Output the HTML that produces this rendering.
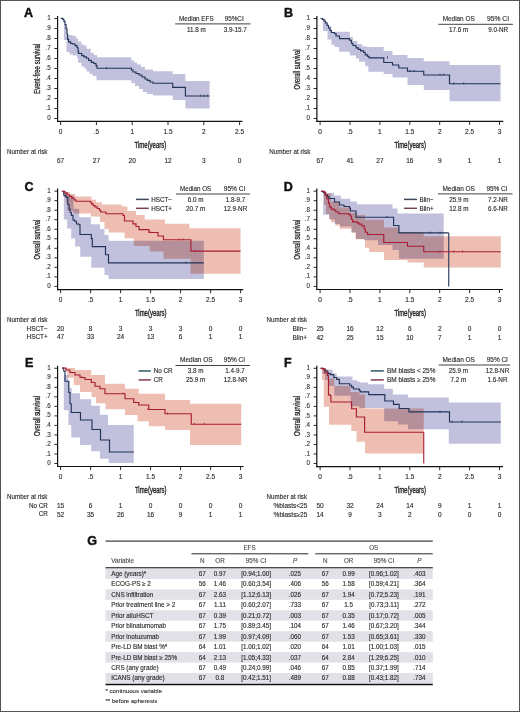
<!DOCTYPE html><html><head><meta charset="utf-8"><style>html,body{margin:0;padding:0;background:#fff;}svg{display:block;filter:blur(0.3px);}</style></head><body>
<svg width="520" height="712" viewBox="0 0 520 712" font-family='"Liberation Sans", sans-serif'>
<rect x="0" y="0" width="520" height="712" fill="#fff"/>
<text x="24" y="17" font-size="12.5" font-weight="bold" fill="#111" stroke="#111" stroke-width="0.45">A</text>
<path d="M61.3,18.3H63.9V24.5H66.5V35H72.8V36.1H76V38.2H78.1V41.4H81.3V44.5H83.4V45.6H86.5V48.7H90.7V53H93.9V55H97V57.2H131.4V60.5H134V62.5H137V64.5H141V67H145V69.5H153V71.2H172.7V74H185.4V81H209.6V108.5H185.4V100H172.7V95.4H153V94H147V92H143V89H139V86H135V83H131.4V80.3H96.5V76.1H92.8V74H89.7V71.4H86.5V68.7H84.4V66.6H81.3V62.8H78.1V57.8H77V55.5H72.8V54.5H69.7V52H66.5V40H63.9V18.3H61.3Z" fill="#c2c1dd" style="mix-blend-mode:multiply"/>
<path d="M60.8,18.3H62.8V19.3H63.9V21.4H65V24.5H66V28.7H67V34H67.6V39.3H68.6V41.9H70.7V43.5H72.8V44H75V45.6H77V47.7H78.1V51.9H78.6V53.5H81.8V55.6H84V56.8H86.5V58.2H88.6V60.3H91.3V62.4H93.9V63.5H96V65.6H97V68.2H131.4V70H133V72H136V73.5H139V75H142V77H145V79H147.3V80.4H150V82H153V83.2H172.7V87.3H185.4V96H209.6" fill="none" stroke="#213458" stroke-width="1.15"/>
<line x1="57.6" y1="15.9" x2="57.6" y2="122.0" stroke="#111" stroke-width="1.2"/>
<line x1="57.0" y1="121.4" x2="242.4" y2="121.4" stroke="#111" stroke-width="1.2"/>
<line x1="54.4" y1="118.50" x2="57.6" y2="118.50" stroke="#111" stroke-width="0.9"/>
<text x="50.80" y="120.10" font-size="6.3" text-anchor="end" fill="#383838" stroke="#383838" stroke-width="0.13">0</text>
<line x1="54.4" y1="108.50" x2="57.6" y2="108.50" stroke="#111" stroke-width="0.9"/>
<text x="50.80" y="110.10" font-size="6.3" text-anchor="end" fill="#383838" stroke="#383838" stroke-width="0.13">.1</text>
<line x1="54.4" y1="98.50" x2="57.6" y2="98.50" stroke="#111" stroke-width="0.9"/>
<text x="50.80" y="100.10" font-size="6.3" text-anchor="end" fill="#383838" stroke="#383838" stroke-width="0.13">.2</text>
<line x1="54.4" y1="88.50" x2="57.6" y2="88.50" stroke="#111" stroke-width="0.9"/>
<text x="50.80" y="90.10" font-size="6.3" text-anchor="end" fill="#383838" stroke="#383838" stroke-width="0.13">.3</text>
<line x1="54.4" y1="78.50" x2="57.6" y2="78.50" stroke="#111" stroke-width="0.9"/>
<text x="50.80" y="80.10" font-size="6.3" text-anchor="end" fill="#383838" stroke="#383838" stroke-width="0.13">.4</text>
<line x1="54.4" y1="68.50" x2="57.6" y2="68.50" stroke="#111" stroke-width="0.9"/>
<text x="50.80" y="70.10" font-size="6.3" text-anchor="end" fill="#383838" stroke="#383838" stroke-width="0.13">.5</text>
<line x1="54.4" y1="58.50" x2="57.6" y2="58.50" stroke="#111" stroke-width="0.9"/>
<text x="50.80" y="60.10" font-size="6.3" text-anchor="end" fill="#383838" stroke="#383838" stroke-width="0.13">.6</text>
<line x1="54.4" y1="48.50" x2="57.6" y2="48.50" stroke="#111" stroke-width="0.9"/>
<text x="50.80" y="50.10" font-size="6.3" text-anchor="end" fill="#383838" stroke="#383838" stroke-width="0.13">.7</text>
<line x1="54.4" y1="38.50" x2="57.6" y2="38.50" stroke="#111" stroke-width="0.9"/>
<text x="50.80" y="40.10" font-size="6.3" text-anchor="end" fill="#383838" stroke="#383838" stroke-width="0.13">.8</text>
<line x1="54.4" y1="28.50" x2="57.6" y2="28.50" stroke="#111" stroke-width="0.9"/>
<text x="50.80" y="30.10" font-size="6.3" text-anchor="end" fill="#383838" stroke="#383838" stroke-width="0.13">.9</text>
<line x1="54.4" y1="18.50" x2="57.6" y2="18.50" stroke="#111" stroke-width="0.9"/>
<text x="50.80" y="20.10" font-size="6.3" text-anchor="end" fill="#383838" stroke="#383838" stroke-width="0.13">1</text>
<line x1="60.60" y1="121.4" x2="60.60" y2="125.0" stroke="#111" stroke-width="0.9"/>
<text x="60.60" y="133.6" font-size="6.5" text-anchor="middle" fill="#2b2b2b" stroke="#2b2b2b" stroke-width="0.13">0</text>
<line x1="96.40" y1="121.4" x2="96.40" y2="125.0" stroke="#111" stroke-width="0.9"/>
<text x="96.40" y="133.6" font-size="6.5" text-anchor="middle" fill="#2b2b2b" stroke="#2b2b2b" stroke-width="0.13">.5</text>
<line x1="132.20" y1="121.4" x2="132.20" y2="125.0" stroke="#111" stroke-width="0.9"/>
<text x="132.20" y="133.6" font-size="6.5" text-anchor="middle" fill="#2b2b2b" stroke="#2b2b2b" stroke-width="0.13">1</text>
<line x1="168.00" y1="121.4" x2="168.00" y2="125.0" stroke="#111" stroke-width="0.9"/>
<text x="168.00" y="133.6" font-size="6.5" text-anchor="middle" fill="#2b2b2b" stroke="#2b2b2b" stroke-width="0.13">1.5</text>
<line x1="203.80" y1="121.4" x2="203.80" y2="125.0" stroke="#111" stroke-width="0.9"/>
<text x="203.80" y="133.6" font-size="6.5" text-anchor="middle" fill="#2b2b2b" stroke="#2b2b2b" stroke-width="0.13">2</text>
<line x1="239.60" y1="121.4" x2="239.60" y2="125.0" stroke="#111" stroke-width="0.9"/>
<text x="239.60" y="133.6" font-size="6.5" text-anchor="middle" fill="#2b2b2b" stroke="#2b2b2b" stroke-width="0.13">2.5</text>
<text transform="translate(40.2,68.9) rotate(-90)" font-size="8.3" text-anchor="middle" textLength="50" lengthAdjust="spacingAndGlyphs" fill="#2b2b2b" stroke="#2b2b2b" stroke-width="0.32">Event-free survival</text>
<text x="150.4" y="147.9" font-size="8.8" text-anchor="middle" textLength="31.6" lengthAdjust="spacingAndGlyphs" fill="#2b2b2b" stroke="#2b2b2b" stroke-width="0.4">Time(years)</text>
<text x="196.3" y="20.7" font-size="6.3" text-anchor="middle" textLength="34.6" lengthAdjust="spacingAndGlyphs" fill="#2b2b2b" stroke="#2b2b2b" stroke-width="0.13">Median EFS</text>
<text x="234.2" y="20.8" font-size="6.3" text-anchor="middle" textLength="19" lengthAdjust="spacingAndGlyphs" fill="#2b2b2b" stroke="#2b2b2b" stroke-width="0.13">95%CI</text>
<line x1="175.2" y1="23.9" x2="250.5" y2="23.9" stroke="#111" stroke-width="0.8"/>
<text x="196.3" y="31.6" font-size="6.3" text-anchor="middle" fill="#2b2b2b" stroke="#2b2b2b" stroke-width="0.13">11.8 m</text>
<text x="235.2" y="31.6" font-size="6.3" text-anchor="middle" fill="#2b2b2b" stroke="#2b2b2b" stroke-width="0.13">3.9-15.7</text>
<text x="7" y="153.9" font-size="6.8" textLength="40.5" lengthAdjust="spacingAndGlyphs" fill="#2b2b2b" stroke="#2b2b2b" stroke-width="0.13">Number at risk</text>
<text x="60.60" y="162.8" font-size="6.5" text-anchor="middle" fill="#2b2b2b" stroke="#2b2b2b" stroke-width="0.13">67</text>
<text x="96.40" y="162.8" font-size="6.5" text-anchor="middle" fill="#2b2b2b" stroke="#2b2b2b" stroke-width="0.13">27</text>
<text x="132.20" y="162.8" font-size="6.5" text-anchor="middle" fill="#2b2b2b" stroke="#2b2b2b" stroke-width="0.13">20</text>
<text x="168.00" y="162.8" font-size="6.5" text-anchor="middle" fill="#2b2b2b" stroke="#2b2b2b" stroke-width="0.13">12</text>
<text x="203.80" y="162.8" font-size="6.5" text-anchor="middle" fill="#2b2b2b" stroke="#2b2b2b" stroke-width="0.13">3</text>
<text x="239.60" y="162.8" font-size="6.5" text-anchor="middle" fill="#2b2b2b" stroke="#2b2b2b" stroke-width="0.13">0</text>
<text x="284" y="17" font-size="12.5" font-weight="bold" fill="#111" stroke="#111" stroke-width="0.45">B</text>
<path d="M320.6,18.5H325.2V22.5H328.3V26.3H331.4V31.7H349.8V37.1H352.9V40.9H357.5V44H362.2V46.3H366.8V47.1H383.7V51H392.5V55H407.5V58H423.75V61.25H449.5V65H500.5V101.25H449.5V90H423.75V85H407.5V77.5H392.5V74H383.7V71.7H368.3V66.3H365.2V61.7H359.1V58.6H356V55.5H349.8V51.7H339.1V47.1H334.5V44.8H331.4V39.4H327.5V30.9H322.9V18.5H320.6Z" fill="#c2c1dd" style="mix-blend-mode:multiply"/>
<path d="M320.6,18.5H322.5V19.5H324V21H325.5V23H327V25.5H328.5V28H330V30.5H331.4V32.5H334.5V33.5H336V36H339.5V38.6H349.5V40.2H351.4V43.2H352.9V45.5H356V47.8H358.3V49.4H360.6V50.9H363.7V52.5H365.2V54.8H367.5V56.3H369.1V57.8H383.75V62.5H392.5V65H398.75V68H407.5V71.25H423.75V75H449.5V83.75H500.5" fill="none" stroke="#213458" stroke-width="1.15"/>
<line x1="316.9" y1="15.9" x2="316.9" y2="121.89999999999999" stroke="#111" stroke-width="1.2"/>
<line x1="316.3" y1="121.3" x2="503.3" y2="121.3" stroke="#111" stroke-width="1.2"/>
<line x1="313.7" y1="118.50" x2="316.9" y2="118.50" stroke="#111" stroke-width="0.9"/>
<text x="310.10" y="120.10" font-size="6.3" text-anchor="end" fill="#383838" stroke="#383838" stroke-width="0.13">0</text>
<line x1="313.7" y1="108.50" x2="316.9" y2="108.50" stroke="#111" stroke-width="0.9"/>
<text x="310.10" y="110.10" font-size="6.3" text-anchor="end" fill="#383838" stroke="#383838" stroke-width="0.13">.1</text>
<line x1="313.7" y1="98.50" x2="316.9" y2="98.50" stroke="#111" stroke-width="0.9"/>
<text x="310.10" y="100.10" font-size="6.3" text-anchor="end" fill="#383838" stroke="#383838" stroke-width="0.13">.2</text>
<line x1="313.7" y1="88.50" x2="316.9" y2="88.50" stroke="#111" stroke-width="0.9"/>
<text x="310.10" y="90.10" font-size="6.3" text-anchor="end" fill="#383838" stroke="#383838" stroke-width="0.13">.3</text>
<line x1="313.7" y1="78.50" x2="316.9" y2="78.50" stroke="#111" stroke-width="0.9"/>
<text x="310.10" y="80.10" font-size="6.3" text-anchor="end" fill="#383838" stroke="#383838" stroke-width="0.13">.4</text>
<line x1="313.7" y1="68.50" x2="316.9" y2="68.50" stroke="#111" stroke-width="0.9"/>
<text x="310.10" y="70.10" font-size="6.3" text-anchor="end" fill="#383838" stroke="#383838" stroke-width="0.13">.5</text>
<line x1="313.7" y1="58.50" x2="316.9" y2="58.50" stroke="#111" stroke-width="0.9"/>
<text x="310.10" y="60.10" font-size="6.3" text-anchor="end" fill="#383838" stroke="#383838" stroke-width="0.13">.6</text>
<line x1="313.7" y1="48.50" x2="316.9" y2="48.50" stroke="#111" stroke-width="0.9"/>
<text x="310.10" y="50.10" font-size="6.3" text-anchor="end" fill="#383838" stroke="#383838" stroke-width="0.13">.7</text>
<line x1="313.7" y1="38.50" x2="316.9" y2="38.50" stroke="#111" stroke-width="0.9"/>
<text x="310.10" y="40.10" font-size="6.3" text-anchor="end" fill="#383838" stroke="#383838" stroke-width="0.13">.8</text>
<line x1="313.7" y1="28.50" x2="316.9" y2="28.50" stroke="#111" stroke-width="0.9"/>
<text x="310.10" y="30.10" font-size="6.3" text-anchor="end" fill="#383838" stroke="#383838" stroke-width="0.13">.9</text>
<line x1="313.7" y1="18.50" x2="316.9" y2="18.50" stroke="#111" stroke-width="0.9"/>
<text x="310.10" y="20.10" font-size="6.3" text-anchor="end" fill="#383838" stroke="#383838" stroke-width="0.13">1</text>
<line x1="320.10" y1="121.3" x2="320.10" y2="124.89999999999999" stroke="#111" stroke-width="0.9"/>
<text x="320.10" y="133.6" font-size="6.5" text-anchor="middle" fill="#2b2b2b" stroke="#2b2b2b" stroke-width="0.13">0</text>
<line x1="350.00" y1="121.3" x2="350.00" y2="124.89999999999999" stroke="#111" stroke-width="0.9"/>
<text x="350.00" y="133.6" font-size="6.5" text-anchor="middle" fill="#2b2b2b" stroke="#2b2b2b" stroke-width="0.13">.5</text>
<line x1="379.90" y1="121.3" x2="379.90" y2="124.89999999999999" stroke="#111" stroke-width="0.9"/>
<text x="379.90" y="133.6" font-size="6.5" text-anchor="middle" fill="#2b2b2b" stroke="#2b2b2b" stroke-width="0.13">1</text>
<line x1="409.80" y1="121.3" x2="409.80" y2="124.89999999999999" stroke="#111" stroke-width="0.9"/>
<text x="409.80" y="133.6" font-size="6.5" text-anchor="middle" fill="#2b2b2b" stroke="#2b2b2b" stroke-width="0.13">1.5</text>
<line x1="439.70" y1="121.3" x2="439.70" y2="124.89999999999999" stroke="#111" stroke-width="0.9"/>
<text x="439.70" y="133.6" font-size="6.5" text-anchor="middle" fill="#2b2b2b" stroke="#2b2b2b" stroke-width="0.13">2</text>
<line x1="469.60" y1="121.3" x2="469.60" y2="124.89999999999999" stroke="#111" stroke-width="0.9"/>
<text x="469.60" y="133.6" font-size="6.5" text-anchor="middle" fill="#2b2b2b" stroke="#2b2b2b" stroke-width="0.13">2.5</text>
<line x1="499.50" y1="121.3" x2="499.50" y2="124.89999999999999" stroke="#111" stroke-width="0.9"/>
<text x="499.50" y="133.6" font-size="6.5" text-anchor="middle" fill="#2b2b2b" stroke="#2b2b2b" stroke-width="0.13">3</text>
<text transform="translate(299.6,69.4) rotate(-90)" font-size="8.3" text-anchor="middle" textLength="40" lengthAdjust="spacingAndGlyphs" fill="#2b2b2b" stroke="#2b2b2b" stroke-width="0.32">Overall survival</text>
<text x="410.2" y="147.5" font-size="8.8" text-anchor="middle" textLength="31.6" lengthAdjust="spacingAndGlyphs" fill="#2b2b2b" stroke="#2b2b2b" stroke-width="0.4">Time(years)</text>
<text x="458.7" y="21.3" font-size="6.3" text-anchor="middle" textLength="32" lengthAdjust="spacingAndGlyphs" fill="#2b2b2b" stroke="#2b2b2b" stroke-width="0.13">Median OS</text>
<text x="498" y="21.3" font-size="6.3" text-anchor="middle" textLength="22" lengthAdjust="spacingAndGlyphs" fill="#2b2b2b" stroke="#2b2b2b" stroke-width="0.13">95% CI</text>
<line x1="438.3" y1="24.3" x2="512.9" y2="24.3" stroke="#111" stroke-width="0.8"/>
<text x="458.6" y="31.6" font-size="6.3" text-anchor="middle" fill="#2b2b2b" stroke="#2b2b2b" stroke-width="0.13">17.6 m</text>
<text x="498.2" y="31.6" font-size="6.3" text-anchor="middle" fill="#2b2b2b" stroke="#2b2b2b" stroke-width="0.13">9.0-NR</text>
<text x="269.3" y="153.9" font-size="6.8" textLength="41" lengthAdjust="spacingAndGlyphs" fill="#2b2b2b" stroke="#2b2b2b" stroke-width="0.13">Number at risk</text>
<text x="320.10" y="162.8" font-size="6.5" text-anchor="middle" fill="#2b2b2b" stroke="#2b2b2b" stroke-width="0.13">67</text>
<text x="350.00" y="162.8" font-size="6.5" text-anchor="middle" fill="#2b2b2b" stroke="#2b2b2b" stroke-width="0.13">41</text>
<text x="379.90" y="162.8" font-size="6.5" text-anchor="middle" fill="#2b2b2b" stroke="#2b2b2b" stroke-width="0.13">27</text>
<text x="409.80" y="162.8" font-size="6.5" text-anchor="middle" fill="#2b2b2b" stroke="#2b2b2b" stroke-width="0.13">16</text>
<text x="439.70" y="162.8" font-size="6.5" text-anchor="middle" fill="#2b2b2b" stroke="#2b2b2b" stroke-width="0.13">9</text>
<text x="469.60" y="162.8" font-size="6.5" text-anchor="middle" fill="#2b2b2b" stroke="#2b2b2b" stroke-width="0.13">1</text>
<text x="499.50" y="162.8" font-size="6.5" text-anchor="middle" fill="#2b2b2b" stroke="#2b2b2b" stroke-width="0.13">1</text>
<text x="24.5" y="190.5" font-size="12.5" font-weight="bold" fill="#111" stroke="#111" stroke-width="0.45">C</text>
<path d="M62.6,191.2H64V193H67.3V195.7H73.5V208.8H79.2V217.2H90.8V224.2H100V229H104.5V235H108.6V240.8H203.8V279H108.5V275H104.5V267.8H91.3V256.7H80.2V246.6H75.2V238.6H71.2V228.5H67.1V219.5H63.8V191.2H62.6Z" fill="#c2c1dd" style="mix-blend-mode:multiply"/>
<path d="M61.5,191.2H66V192H70V194H75.3V196.4H91.5V199.8H96V202.2H101.8V204.5H121.6V206.5H127.4V211H136V215H144.7V219.5H165V223.8H189.4V228.2H240.5V273.7H190.5V258.8H163.5V251.4H149.7V246H133.8V238.3H124.6V232.5H108.6V229H104.5V222H100V216.5H90.8V213.4H73.5V211H67.3V203H66V198H64.5V194H63V191.2H61.5Z" fill="#eebeb2" style="mix-blend-mode:multiply"/>
<path d="M62.6,191.2H63.8V195.2H65.5V196.4H66.7V197.5H67.8V204.5H69V209H70.1V212.5H71.3V215.4H73V220H74.7V221.2H76.5V224H78.8V224.7H80V234.5H91.3V238.6H92.3V246.6H105.5V254.7H108.5V262.8H203.8" fill="none" stroke="#213458" stroke-width="1.15"/>
<path d="M61.5,191.2H64.9V192.9H67.2V194.7H69.5V196.4H71.8V198.1H74.2V199.8H75.9V201.2H90.3V202.2H91.5V203.9H93.2V205.6H94.9V206.8H97.2V208.5H99.5V210.2H100.7V212H105.9V213.7H123V215.5H124.5V221H133V223.8H136V226.5H139V229.6H149V232.5H158V236H163.5V239.7H190.9V251.1H240.5" fill="none" stroke="#a81c34" stroke-width="1.15"/>
<line x1="57.6" y1="188.55" x2="57.6" y2="290.20000000000005" stroke="#111" stroke-width="1.2"/>
<line x1="57.0" y1="289.6" x2="243.3" y2="289.6" stroke="#111" stroke-width="1.2"/>
<line x1="54.4" y1="286.40" x2="57.6" y2="286.40" stroke="#111" stroke-width="0.9"/>
<text x="50.80" y="288.00" font-size="6.3" text-anchor="end" fill="#383838" stroke="#383838" stroke-width="0.13">0</text>
<line x1="54.4" y1="276.88" x2="57.6" y2="276.88" stroke="#111" stroke-width="0.9"/>
<text x="50.80" y="278.48" font-size="6.3" text-anchor="end" fill="#383838" stroke="#383838" stroke-width="0.13">.1</text>
<line x1="54.4" y1="267.35" x2="57.6" y2="267.35" stroke="#111" stroke-width="0.9"/>
<text x="50.80" y="268.95" font-size="6.3" text-anchor="end" fill="#383838" stroke="#383838" stroke-width="0.13">.2</text>
<line x1="54.4" y1="257.82" x2="57.6" y2="257.82" stroke="#111" stroke-width="0.9"/>
<text x="50.80" y="259.43" font-size="6.3" text-anchor="end" fill="#383838" stroke="#383838" stroke-width="0.13">.3</text>
<line x1="54.4" y1="248.30" x2="57.6" y2="248.30" stroke="#111" stroke-width="0.9"/>
<text x="50.80" y="249.90" font-size="6.3" text-anchor="end" fill="#383838" stroke="#383838" stroke-width="0.13">.4</text>
<line x1="54.4" y1="238.77" x2="57.6" y2="238.77" stroke="#111" stroke-width="0.9"/>
<text x="50.80" y="240.37" font-size="6.3" text-anchor="end" fill="#383838" stroke="#383838" stroke-width="0.13">.5</text>
<line x1="54.4" y1="229.25" x2="57.6" y2="229.25" stroke="#111" stroke-width="0.9"/>
<text x="50.80" y="230.85" font-size="6.3" text-anchor="end" fill="#383838" stroke="#383838" stroke-width="0.13">.6</text>
<line x1="54.4" y1="219.72" x2="57.6" y2="219.72" stroke="#111" stroke-width="0.9"/>
<text x="50.80" y="221.32" font-size="6.3" text-anchor="end" fill="#383838" stroke="#383838" stroke-width="0.13">.7</text>
<line x1="54.4" y1="210.20" x2="57.6" y2="210.20" stroke="#111" stroke-width="0.9"/>
<text x="50.80" y="211.80" font-size="6.3" text-anchor="end" fill="#383838" stroke="#383838" stroke-width="0.13">.8</text>
<line x1="54.4" y1="200.68" x2="57.6" y2="200.68" stroke="#111" stroke-width="0.9"/>
<text x="50.80" y="202.28" font-size="6.3" text-anchor="end" fill="#383838" stroke="#383838" stroke-width="0.13">.9</text>
<line x1="54.4" y1="191.15" x2="57.6" y2="191.15" stroke="#111" stroke-width="0.9"/>
<text x="50.80" y="192.75" font-size="6.3" text-anchor="end" fill="#383838" stroke="#383838" stroke-width="0.13">1</text>
<line x1="60.60" y1="289.6" x2="60.60" y2="293.20000000000005" stroke="#111" stroke-width="0.9"/>
<text x="60.60" y="302.4" font-size="6.5" text-anchor="middle" fill="#2b2b2b" stroke="#2b2b2b" stroke-width="0.13">0</text>
<line x1="90.60" y1="289.6" x2="90.60" y2="293.20000000000005" stroke="#111" stroke-width="0.9"/>
<text x="90.60" y="302.4" font-size="6.5" text-anchor="middle" fill="#2b2b2b" stroke="#2b2b2b" stroke-width="0.13">.5</text>
<line x1="120.60" y1="289.6" x2="120.60" y2="293.20000000000005" stroke="#111" stroke-width="0.9"/>
<text x="120.60" y="302.4" font-size="6.5" text-anchor="middle" fill="#2b2b2b" stroke="#2b2b2b" stroke-width="0.13">1</text>
<line x1="150.60" y1="289.6" x2="150.60" y2="293.20000000000005" stroke="#111" stroke-width="0.9"/>
<text x="150.60" y="302.4" font-size="6.5" text-anchor="middle" fill="#2b2b2b" stroke="#2b2b2b" stroke-width="0.13">1.5</text>
<line x1="180.60" y1="289.6" x2="180.60" y2="293.20000000000005" stroke="#111" stroke-width="0.9"/>
<text x="180.60" y="302.4" font-size="6.5" text-anchor="middle" fill="#2b2b2b" stroke="#2b2b2b" stroke-width="0.13">2</text>
<line x1="210.60" y1="289.6" x2="210.60" y2="293.20000000000005" stroke="#111" stroke-width="0.9"/>
<text x="210.60" y="302.4" font-size="6.5" text-anchor="middle" fill="#2b2b2b" stroke="#2b2b2b" stroke-width="0.13">2.5</text>
<line x1="240.60" y1="289.6" x2="240.60" y2="293.20000000000005" stroke="#111" stroke-width="0.9"/>
<text x="240.60" y="302.4" font-size="6.5" text-anchor="middle" fill="#2b2b2b" stroke="#2b2b2b" stroke-width="0.13">3</text>
<text transform="translate(39.6,239.6) rotate(-90)" font-size="8.3" text-anchor="middle" textLength="40" lengthAdjust="spacingAndGlyphs" fill="#2b2b2b" stroke="#2b2b2b" stroke-width="0.32">Overall survival</text>
<text x="150.7" y="315.6" font-size="8.8" text-anchor="middle" textLength="31.6" lengthAdjust="spacingAndGlyphs" fill="#2b2b2b" stroke="#2b2b2b" stroke-width="0.4">Time(years)</text>
<text x="195.6" y="191" font-size="6.3" text-anchor="middle" textLength="31.3" lengthAdjust="spacingAndGlyphs" fill="#2b2b2b" stroke="#2b2b2b" stroke-width="0.13">Median OS</text>
<text x="234.6" y="191" font-size="6.3" text-anchor="middle" textLength="21.7" lengthAdjust="spacingAndGlyphs" fill="#2b2b2b" stroke="#2b2b2b" stroke-width="0.13">95% CI</text>
<line x1="176" y1="194.0" x2="250" y2="194.0" stroke="#111" stroke-width="0.8"/>
<line x1="136" y1="199.4" x2="148.8" y2="199.4" stroke="#3e4a5c" stroke-width="1.5"/>
<line x1="136" y1="208.3" x2="148.8" y2="208.3" stroke="#774452" stroke-width="1.5"/>
<text x="151.2" y="202.0" font-size="6.3" fill="#2b2b2b" stroke="#2b2b2b" stroke-width="0.13">HSCT&#8722;</text>
<text x="151.2" y="210.8" font-size="6.3" fill="#2b2b2b" stroke="#2b2b2b" stroke-width="0.13">HSCT+</text>
<text x="195.6" y="202.0" font-size="6.3" text-anchor="middle" fill="#2b2b2b" stroke="#2b2b2b" stroke-width="0.13">6.0 m</text>
<text x="195.6" y="210.8" font-size="6.3" text-anchor="middle" fill="#2b2b2b" stroke="#2b2b2b" stroke-width="0.13">20.7 m</text>
<text x="235.5" y="202.0" font-size="6.3" text-anchor="middle" fill="#2b2b2b" stroke="#2b2b2b" stroke-width="0.13">1.8-9.7</text>
<text x="235.5" y="210.8" font-size="6.3" text-anchor="middle" fill="#2b2b2b" stroke="#2b2b2b" stroke-width="0.13">12.9-NR</text>
<text x="7" y="322.0" font-size="6.8" textLength="40.5" lengthAdjust="spacingAndGlyphs" fill="#2b2b2b" stroke="#2b2b2b" stroke-width="0.13">Number at risk</text>
<text x="47.8" y="330.6" font-size="6.3" text-anchor="end" textLength="21.3" lengthAdjust="spacingAndGlyphs" fill="#2b2b2b" stroke="#2b2b2b" stroke-width="0.13">HSCT&#8722;</text>
<text x="47.8" y="339.0" font-size="6.3" text-anchor="end" textLength="21.3" lengthAdjust="spacingAndGlyphs" fill="#2b2b2b" stroke="#2b2b2b" stroke-width="0.13">HSCT+</text>
<text x="60.60" y="330.7" font-size="6.5" text-anchor="middle" fill="#2b2b2b" stroke="#2b2b2b" stroke-width="0.13">20</text>
<text x="90.60" y="330.7" font-size="6.5" text-anchor="middle" fill="#2b2b2b" stroke="#2b2b2b" stroke-width="0.13">8</text>
<text x="120.60" y="330.7" font-size="6.5" text-anchor="middle" fill="#2b2b2b" stroke="#2b2b2b" stroke-width="0.13">3</text>
<text x="150.60" y="330.7" font-size="6.5" text-anchor="middle" fill="#2b2b2b" stroke="#2b2b2b" stroke-width="0.13">3</text>
<text x="180.60" y="330.7" font-size="6.5" text-anchor="middle" fill="#2b2b2b" stroke="#2b2b2b" stroke-width="0.13">3</text>
<text x="210.60" y="330.7" font-size="6.5" text-anchor="middle" fill="#2b2b2b" stroke="#2b2b2b" stroke-width="0.13">0</text>
<text x="240.60" y="330.7" font-size="6.5" text-anchor="middle" fill="#2b2b2b" stroke="#2b2b2b" stroke-width="0.13">0</text>
<text x="60.60" y="339.1" font-size="6.5" text-anchor="middle" fill="#2b2b2b" stroke="#2b2b2b" stroke-width="0.13">47</text>
<text x="90.60" y="339.1" font-size="6.5" text-anchor="middle" fill="#2b2b2b" stroke="#2b2b2b" stroke-width="0.13">33</text>
<text x="120.60" y="339.1" font-size="6.5" text-anchor="middle" fill="#2b2b2b" stroke="#2b2b2b" stroke-width="0.13">24</text>
<text x="150.60" y="339.1" font-size="6.5" text-anchor="middle" fill="#2b2b2b" stroke="#2b2b2b" stroke-width="0.13">13</text>
<text x="180.60" y="339.1" font-size="6.5" text-anchor="middle" fill="#2b2b2b" stroke="#2b2b2b" stroke-width="0.13">6</text>
<text x="210.60" y="339.1" font-size="6.5" text-anchor="middle" fill="#2b2b2b" stroke="#2b2b2b" stroke-width="0.13">1</text>
<text x="240.60" y="339.1" font-size="6.5" text-anchor="middle" fill="#2b2b2b" stroke="#2b2b2b" stroke-width="0.13">1</text>
<text x="283.7" y="190.5" font-size="12.5" font-weight="bold" fill="#111" stroke="#111" stroke-width="0.45">D</text>
<path d="M320.9,191.2H326.7V193H334.2V195.5H340.8V198.8H350.3V201.5H357V204.2H392.5V208.6H397.5V213.6H443.75V258.75H398.9V250H392.5V245H378V240.2H364V239H356V232H351.5V226.4H340V224H334.7V219.5H329.5V214.8H323.2V191.2H320.9Z" fill="#c2c1dd" style="mix-blend-mode:multiply"/>
<path d="M320.9,191.2H326V193.5H331V201.5H339.6V207.5H350.2V213H357V215H365V219.7H384V227.5H398.75V232H423.75V236.25H500.75V267.5H423.75V262.5H407.5V260H384V252H369.2V247.7H365V239.2H355.5V233H351.5V228.7H339.6V225.5H335.4V222.3H331V219H329V214H326V205H324V191.2H320.9Z" fill="#eebeb2" style="mix-blend-mode:multiply"/>
<path d="M320.9,191.2H323.2V192.5H325V195H327.5V196.5H329V198.5H334.5V202H339.5V205H344V206.5H349.5V208H350.5V211H356V217.2H393.6V225.5H398.9V232.9H448.75" fill="none" stroke="#213458" stroke-width="1.15"/>
<line x1="448.75" y1="232.9" x2="448.75" y2="286.4" stroke="#213458" stroke-width="1.1"/>
<path d="M320.9,191.2H324.3V192.9H325.5V195.2H326.7V198.7H328.4V203.3H329.5V206.8H331.3V209.1H334.2V210.2H335.9V212H338.8V213.7H348.6V214.3H350.3V216H351.5V219.5H352.6V221.8H357.2V222.9H359V224.1H361.8V225.8H364.2V228.7H365.3V232.2H367.6V234.5H383.75V242.5H407.5V246.25H423.75V251.75H500.75" fill="none" stroke="#a81c34" stroke-width="1.15"/>
<line x1="316.8" y1="188.55" x2="316.8" y2="290.1" stroke="#111" stroke-width="1.2"/>
<line x1="316.2" y1="289.5" x2="503" y2="289.5" stroke="#111" stroke-width="1.2"/>
<line x1="313.6" y1="286.40" x2="316.8" y2="286.40" stroke="#111" stroke-width="0.9"/>
<text x="310.00" y="288.00" font-size="6.3" text-anchor="end" fill="#383838" stroke="#383838" stroke-width="0.13">0</text>
<line x1="313.6" y1="276.88" x2="316.8" y2="276.88" stroke="#111" stroke-width="0.9"/>
<text x="310.00" y="278.48" font-size="6.3" text-anchor="end" fill="#383838" stroke="#383838" stroke-width="0.13">.1</text>
<line x1="313.6" y1="267.35" x2="316.8" y2="267.35" stroke="#111" stroke-width="0.9"/>
<text x="310.00" y="268.95" font-size="6.3" text-anchor="end" fill="#383838" stroke="#383838" stroke-width="0.13">.2</text>
<line x1="313.6" y1="257.82" x2="316.8" y2="257.82" stroke="#111" stroke-width="0.9"/>
<text x="310.00" y="259.43" font-size="6.3" text-anchor="end" fill="#383838" stroke="#383838" stroke-width="0.13">.3</text>
<line x1="313.6" y1="248.30" x2="316.8" y2="248.30" stroke="#111" stroke-width="0.9"/>
<text x="310.00" y="249.90" font-size="6.3" text-anchor="end" fill="#383838" stroke="#383838" stroke-width="0.13">.4</text>
<line x1="313.6" y1="238.77" x2="316.8" y2="238.77" stroke="#111" stroke-width="0.9"/>
<text x="310.00" y="240.37" font-size="6.3" text-anchor="end" fill="#383838" stroke="#383838" stroke-width="0.13">.5</text>
<line x1="313.6" y1="229.25" x2="316.8" y2="229.25" stroke="#111" stroke-width="0.9"/>
<text x="310.00" y="230.85" font-size="6.3" text-anchor="end" fill="#383838" stroke="#383838" stroke-width="0.13">.6</text>
<line x1="313.6" y1="219.72" x2="316.8" y2="219.72" stroke="#111" stroke-width="0.9"/>
<text x="310.00" y="221.32" font-size="6.3" text-anchor="end" fill="#383838" stroke="#383838" stroke-width="0.13">.7</text>
<line x1="313.6" y1="210.20" x2="316.8" y2="210.20" stroke="#111" stroke-width="0.9"/>
<text x="310.00" y="211.80" font-size="6.3" text-anchor="end" fill="#383838" stroke="#383838" stroke-width="0.13">.8</text>
<line x1="313.6" y1="200.68" x2="316.8" y2="200.68" stroke="#111" stroke-width="0.9"/>
<text x="310.00" y="202.28" font-size="6.3" text-anchor="end" fill="#383838" stroke="#383838" stroke-width="0.13">.9</text>
<line x1="313.6" y1="191.15" x2="316.8" y2="191.15" stroke="#111" stroke-width="0.9"/>
<text x="310.00" y="192.75" font-size="6.3" text-anchor="end" fill="#383838" stroke="#383838" stroke-width="0.13">1</text>
<line x1="320.10" y1="289.5" x2="320.10" y2="293.1" stroke="#111" stroke-width="0.9"/>
<text x="320.10" y="302.4" font-size="6.5" text-anchor="middle" fill="#2b2b2b" stroke="#2b2b2b" stroke-width="0.13">0</text>
<line x1="350.00" y1="289.5" x2="350.00" y2="293.1" stroke="#111" stroke-width="0.9"/>
<text x="350.00" y="302.4" font-size="6.5" text-anchor="middle" fill="#2b2b2b" stroke="#2b2b2b" stroke-width="0.13">.5</text>
<line x1="379.90" y1="289.5" x2="379.90" y2="293.1" stroke="#111" stroke-width="0.9"/>
<text x="379.90" y="302.4" font-size="6.5" text-anchor="middle" fill="#2b2b2b" stroke="#2b2b2b" stroke-width="0.13">1</text>
<line x1="409.80" y1="289.5" x2="409.80" y2="293.1" stroke="#111" stroke-width="0.9"/>
<text x="409.80" y="302.4" font-size="6.5" text-anchor="middle" fill="#2b2b2b" stroke="#2b2b2b" stroke-width="0.13">1.5</text>
<line x1="439.70" y1="289.5" x2="439.70" y2="293.1" stroke="#111" stroke-width="0.9"/>
<text x="439.70" y="302.4" font-size="6.5" text-anchor="middle" fill="#2b2b2b" stroke="#2b2b2b" stroke-width="0.13">2</text>
<line x1="469.60" y1="289.5" x2="469.60" y2="293.1" stroke="#111" stroke-width="0.9"/>
<text x="469.60" y="302.4" font-size="6.5" text-anchor="middle" fill="#2b2b2b" stroke="#2b2b2b" stroke-width="0.13">2.5</text>
<line x1="499.50" y1="289.5" x2="499.50" y2="293.1" stroke="#111" stroke-width="0.9"/>
<text x="499.50" y="302.4" font-size="6.5" text-anchor="middle" fill="#2b2b2b" stroke="#2b2b2b" stroke-width="0.13">3</text>
<text transform="translate(299.6,239.6) rotate(-90)" font-size="8.3" text-anchor="middle" textLength="40" lengthAdjust="spacingAndGlyphs" fill="#2b2b2b" stroke="#2b2b2b" stroke-width="0.32">Overall survival</text>
<text x="410.2" y="315.6" font-size="8.8" text-anchor="middle" textLength="31.6" lengthAdjust="spacingAndGlyphs" fill="#2b2b2b" stroke="#2b2b2b" stroke-width="0.4">Time(years)</text>
<text x="458.7" y="191" font-size="6.3" text-anchor="middle" textLength="32.5" lengthAdjust="spacingAndGlyphs" fill="#2b2b2b" stroke="#2b2b2b" stroke-width="0.13">Median OS</text>
<text x="497" y="191" font-size="6.3" text-anchor="middle" textLength="21.2" lengthAdjust="spacingAndGlyphs" fill="#2b2b2b" stroke="#2b2b2b" stroke-width="0.13">95% CI</text>
<line x1="438" y1="193.9" x2="512.5" y2="193.9" stroke="#111" stroke-width="0.8"/>
<line x1="404" y1="199.4" x2="417" y2="199.4" stroke="#3e4a5c" stroke-width="1.5"/>
<line x1="404" y1="208.3" x2="417" y2="208.3" stroke="#774452" stroke-width="1.5"/>
<text x="419.5" y="202.0" font-size="6.3" fill="#2b2b2b" stroke="#2b2b2b" stroke-width="0.13">Blin&#8722;</text>
<text x="419.5" y="210.8" font-size="6.3" fill="#2b2b2b" stroke="#2b2b2b" stroke-width="0.13">Blin+</text>
<text x="458.9" y="202.0" font-size="6.3" text-anchor="middle" fill="#2b2b2b" stroke="#2b2b2b" stroke-width="0.13">25.9 m</text>
<text x="458.9" y="210.8" font-size="6.3" text-anchor="middle" fill="#2b2b2b" stroke="#2b2b2b" stroke-width="0.13">12.8 m</text>
<text x="497.9" y="202.0" font-size="6.3" text-anchor="middle" fill="#2b2b2b" stroke="#2b2b2b" stroke-width="0.13">7.2-NR</text>
<text x="497.9" y="210.8" font-size="6.3" text-anchor="middle" fill="#2b2b2b" stroke="#2b2b2b" stroke-width="0.13">6.6-NR</text>
<text x="266.6" y="321.8" font-size="6.8" textLength="40.5" lengthAdjust="spacingAndGlyphs" fill="#2b2b2b" stroke="#2b2b2b" stroke-width="0.13">Number at risk</text>
<text x="307.1" y="330.8" font-size="6.3" text-anchor="end" textLength="14.6" lengthAdjust="spacingAndGlyphs" fill="#2b2b2b" stroke="#2b2b2b" stroke-width="0.13">Blin&#8722;</text>
<text x="307.1" y="339.5" font-size="6.3" text-anchor="end" textLength="14.6" lengthAdjust="spacingAndGlyphs" fill="#2b2b2b" stroke="#2b2b2b" stroke-width="0.13">Blin+</text>
<text x="320.10" y="330.9" font-size="6.5" text-anchor="middle" fill="#2b2b2b" stroke="#2b2b2b" stroke-width="0.13">25</text>
<text x="350.00" y="330.9" font-size="6.5" text-anchor="middle" fill="#2b2b2b" stroke="#2b2b2b" stroke-width="0.13">16</text>
<text x="379.90" y="330.9" font-size="6.5" text-anchor="middle" fill="#2b2b2b" stroke="#2b2b2b" stroke-width="0.13">12</text>
<text x="409.80" y="330.9" font-size="6.5" text-anchor="middle" fill="#2b2b2b" stroke="#2b2b2b" stroke-width="0.13">6</text>
<text x="439.70" y="330.9" font-size="6.5" text-anchor="middle" fill="#2b2b2b" stroke="#2b2b2b" stroke-width="0.13">2</text>
<text x="469.60" y="330.9" font-size="6.5" text-anchor="middle" fill="#2b2b2b" stroke="#2b2b2b" stroke-width="0.13">0</text>
<text x="499.50" y="330.9" font-size="6.5" text-anchor="middle" fill="#2b2b2b" stroke="#2b2b2b" stroke-width="0.13">0</text>
<text x="320.10" y="339.5" font-size="6.5" text-anchor="middle" fill="#2b2b2b" stroke="#2b2b2b" stroke-width="0.13">42</text>
<text x="350.00" y="339.5" font-size="6.5" text-anchor="middle" fill="#2b2b2b" stroke="#2b2b2b" stroke-width="0.13">25</text>
<text x="379.90" y="339.5" font-size="6.5" text-anchor="middle" fill="#2b2b2b" stroke="#2b2b2b" stroke-width="0.13">15</text>
<text x="409.80" y="339.5" font-size="6.5" text-anchor="middle" fill="#2b2b2b" stroke="#2b2b2b" stroke-width="0.13">10</text>
<text x="439.70" y="339.5" font-size="6.5" text-anchor="middle" fill="#2b2b2b" stroke="#2b2b2b" stroke-width="0.13">7</text>
<text x="469.60" y="339.5" font-size="6.5" text-anchor="middle" fill="#2b2b2b" stroke="#2b2b2b" stroke-width="0.13">1</text>
<text x="499.50" y="339.5" font-size="6.5" text-anchor="middle" fill="#2b2b2b" stroke="#2b2b2b" stroke-width="0.13">1</text>
<text x="25" y="367.4" font-size="12.5" font-weight="bold" fill="#111" stroke="#111" stroke-width="0.45">E</text>
<path d="M62,368.4H63.8V375H68.4V381.3H69.5V388H71.7V393.2H80V399.3H91.2V405.8H99.8V414.8H108V425H133.75V463H108.75V458.75H100V451.25H91.25V445H80V437.5H71.25V425H68.4V410.2H63.8V368.4H62Z" fill="#c2c1dd" style="mix-blend-mode:multiply"/>
<path d="M62,368H75V370H91.25V375H105V383.75H125V388.75H138.75V393.75H165V400H190V403.75H241.25V445H190V430H165V426.25H148.75V421.25H137.5V415H125V409.2H105.5V403.2H96V397.1H91.6V392H80V385H73.75V377.5H67.5V372H65V368.4H62Z" fill="#eebeb2" style="mix-blend-mode:multiply"/>
<path d="M62,368H63.75V371.25H65V381.25H68.75V392.5H70V403.75H71.25V412.5H80.5V420H92V429.5H100.5V440H109.5V452H133.75" fill="none" stroke="#213458" stroke-width="1.15"/>
<path d="M62,368H66V370H70V372.5H75V375H80V377.5H85V379.5H91.25V382.5H95V386.25H100V388.75H105V393.75H125V398.75H133.75V402.5H138.75V405H148.75V409.5H165V413.75H191.25V424.25H241.25" fill="none" stroke="#a81c34" stroke-width="1.15"/>
<line x1="57.6" y1="365.65" x2="57.6" y2="467.1" stroke="#111" stroke-width="1.2"/>
<line x1="57.0" y1="466.5" x2="243.6" y2="466.5" stroke="#111" stroke-width="1.2"/>
<line x1="54.4" y1="463.50" x2="57.6" y2="463.50" stroke="#111" stroke-width="0.9"/>
<text x="50.80" y="465.10" font-size="6.3" text-anchor="end" fill="#383838" stroke="#383838" stroke-width="0.13">0</text>
<line x1="54.4" y1="453.98" x2="57.6" y2="453.98" stroke="#111" stroke-width="0.9"/>
<text x="50.80" y="455.58" font-size="6.3" text-anchor="end" fill="#383838" stroke="#383838" stroke-width="0.13">.1</text>
<line x1="54.4" y1="444.45" x2="57.6" y2="444.45" stroke="#111" stroke-width="0.9"/>
<text x="50.80" y="446.05" font-size="6.3" text-anchor="end" fill="#383838" stroke="#383838" stroke-width="0.13">.2</text>
<line x1="54.4" y1="434.93" x2="57.6" y2="434.93" stroke="#111" stroke-width="0.9"/>
<text x="50.80" y="436.53" font-size="6.3" text-anchor="end" fill="#383838" stroke="#383838" stroke-width="0.13">.3</text>
<line x1="54.4" y1="425.40" x2="57.6" y2="425.40" stroke="#111" stroke-width="0.9"/>
<text x="50.80" y="427.00" font-size="6.3" text-anchor="end" fill="#383838" stroke="#383838" stroke-width="0.13">.4</text>
<line x1="54.4" y1="415.88" x2="57.6" y2="415.88" stroke="#111" stroke-width="0.9"/>
<text x="50.80" y="417.48" font-size="6.3" text-anchor="end" fill="#383838" stroke="#383838" stroke-width="0.13">.5</text>
<line x1="54.4" y1="406.35" x2="57.6" y2="406.35" stroke="#111" stroke-width="0.9"/>
<text x="50.80" y="407.95" font-size="6.3" text-anchor="end" fill="#383838" stroke="#383838" stroke-width="0.13">.6</text>
<line x1="54.4" y1="396.82" x2="57.6" y2="396.82" stroke="#111" stroke-width="0.9"/>
<text x="50.80" y="398.43" font-size="6.3" text-anchor="end" fill="#383838" stroke="#383838" stroke-width="0.13">.7</text>
<line x1="54.4" y1="387.30" x2="57.6" y2="387.30" stroke="#111" stroke-width="0.9"/>
<text x="50.80" y="388.90" font-size="6.3" text-anchor="end" fill="#383838" stroke="#383838" stroke-width="0.13">.8</text>
<line x1="54.4" y1="377.77" x2="57.6" y2="377.77" stroke="#111" stroke-width="0.9"/>
<text x="50.80" y="379.38" font-size="6.3" text-anchor="end" fill="#383838" stroke="#383838" stroke-width="0.13">.9</text>
<line x1="54.4" y1="368.25" x2="57.6" y2="368.25" stroke="#111" stroke-width="0.9"/>
<text x="50.80" y="369.85" font-size="6.3" text-anchor="end" fill="#383838" stroke="#383838" stroke-width="0.13">1</text>
<line x1="60.60" y1="466.5" x2="60.60" y2="470.1" stroke="#111" stroke-width="0.9"/>
<text x="60.60" y="479.3" font-size="6.5" text-anchor="middle" fill="#2b2b2b" stroke="#2b2b2b" stroke-width="0.13">0</text>
<line x1="90.60" y1="466.5" x2="90.60" y2="470.1" stroke="#111" stroke-width="0.9"/>
<text x="90.60" y="479.3" font-size="6.5" text-anchor="middle" fill="#2b2b2b" stroke="#2b2b2b" stroke-width="0.13">.5</text>
<line x1="120.60" y1="466.5" x2="120.60" y2="470.1" stroke="#111" stroke-width="0.9"/>
<text x="120.60" y="479.3" font-size="6.5" text-anchor="middle" fill="#2b2b2b" stroke="#2b2b2b" stroke-width="0.13">1</text>
<line x1="150.60" y1="466.5" x2="150.60" y2="470.1" stroke="#111" stroke-width="0.9"/>
<text x="150.60" y="479.3" font-size="6.5" text-anchor="middle" fill="#2b2b2b" stroke="#2b2b2b" stroke-width="0.13">1.5</text>
<line x1="180.60" y1="466.5" x2="180.60" y2="470.1" stroke="#111" stroke-width="0.9"/>
<text x="180.60" y="479.3" font-size="6.5" text-anchor="middle" fill="#2b2b2b" stroke="#2b2b2b" stroke-width="0.13">2</text>
<line x1="210.60" y1="466.5" x2="210.60" y2="470.1" stroke="#111" stroke-width="0.9"/>
<text x="210.60" y="479.3" font-size="6.5" text-anchor="middle" fill="#2b2b2b" stroke="#2b2b2b" stroke-width="0.13">2.5</text>
<line x1="240.60" y1="466.5" x2="240.60" y2="470.1" stroke="#111" stroke-width="0.9"/>
<text x="240.60" y="479.3" font-size="6.5" text-anchor="middle" fill="#2b2b2b" stroke="#2b2b2b" stroke-width="0.13">3</text>
<text transform="translate(39.6,416) rotate(-90)" font-size="8.3" text-anchor="middle" textLength="40" lengthAdjust="spacingAndGlyphs" fill="#2b2b2b" stroke="#2b2b2b" stroke-width="0.32">Overall survival</text>
<text x="150.7" y="492.6" font-size="8.8" text-anchor="middle" textLength="31.6" lengthAdjust="spacingAndGlyphs" fill="#2b2b2b" stroke="#2b2b2b" stroke-width="0.4">Time(years)</text>
<text x="196.3" y="362.2" font-size="6.3" text-anchor="middle" textLength="32.5" lengthAdjust="spacingAndGlyphs" fill="#2b2b2b" stroke="#2b2b2b" stroke-width="0.13">Median OS</text>
<text x="234.4" y="362.2" font-size="6.3" text-anchor="middle" textLength="21.2" lengthAdjust="spacingAndGlyphs" fill="#2b2b2b" stroke="#2b2b2b" stroke-width="0.13">95% CI</text>
<line x1="175.5" y1="365.5" x2="250" y2="365.5" stroke="#111" stroke-width="0.8"/>
<line x1="138.5" y1="371" x2="150.8" y2="371" stroke="#3d6270" stroke-width="1.6"/>
<line x1="138.5" y1="379.9" x2="150.8" y2="379.9" stroke="#8e4858" stroke-width="1.6"/>
<text x="153.7" y="373.0" font-size="6.3" fill="#2b2b2b" stroke="#2b2b2b" stroke-width="0.13">No CR</text>
<text x="153.7" y="382.3" font-size="6.3" fill="#2b2b2b" stroke="#2b2b2b" stroke-width="0.13">CR</text>
<text x="195.6" y="373.0" font-size="6.3" text-anchor="middle" fill="#2b2b2b" stroke="#2b2b2b" stroke-width="0.13">3.8 m</text>
<text x="195.6" y="382.3" font-size="6.3" text-anchor="middle" fill="#2b2b2b" stroke="#2b2b2b" stroke-width="0.13">25.9 m</text>
<text x="235" y="373.0" font-size="6.3" text-anchor="middle" fill="#2b2b2b" stroke="#2b2b2b" stroke-width="0.13">1.4-9.7</text>
<text x="235.6" y="382.3" font-size="6.3" text-anchor="middle" fill="#2b2b2b" stroke="#2b2b2b" stroke-width="0.13">12.8-NR</text>
<text x="7" y="498.8" font-size="6.8" textLength="40.5" lengthAdjust="spacingAndGlyphs" fill="#2b2b2b" stroke="#2b2b2b" stroke-width="0.13">Number at risk</text>
<text x="47.8" y="507.8" font-size="6.3" text-anchor="end" fill="#2b2b2b" stroke="#2b2b2b" stroke-width="0.13">No CR</text>
<text x="47.8" y="516.4" font-size="6.3" text-anchor="end" fill="#2b2b2b" stroke="#2b2b2b" stroke-width="0.13">CR</text>
<text x="60.60" y="507.9" font-size="6.5" text-anchor="middle" fill="#2b2b2b" stroke="#2b2b2b" stroke-width="0.13">15</text>
<text x="90.60" y="507.9" font-size="6.5" text-anchor="middle" fill="#2b2b2b" stroke="#2b2b2b" stroke-width="0.13">6</text>
<text x="120.60" y="507.9" font-size="6.5" text-anchor="middle" fill="#2b2b2b" stroke="#2b2b2b" stroke-width="0.13">1</text>
<text x="150.60" y="507.9" font-size="6.5" text-anchor="middle" fill="#2b2b2b" stroke="#2b2b2b" stroke-width="0.13">0</text>
<text x="180.60" y="507.9" font-size="6.5" text-anchor="middle" fill="#2b2b2b" stroke="#2b2b2b" stroke-width="0.13">0</text>
<text x="210.60" y="507.9" font-size="6.5" text-anchor="middle" fill="#2b2b2b" stroke="#2b2b2b" stroke-width="0.13">0</text>
<text x="240.60" y="507.9" font-size="6.5" text-anchor="middle" fill="#2b2b2b" stroke="#2b2b2b" stroke-width="0.13">0</text>
<text x="60.60" y="516.5" font-size="6.5" text-anchor="middle" fill="#2b2b2b" stroke="#2b2b2b" stroke-width="0.13">52</text>
<text x="90.60" y="516.5" font-size="6.5" text-anchor="middle" fill="#2b2b2b" stroke="#2b2b2b" stroke-width="0.13">35</text>
<text x="120.60" y="516.5" font-size="6.5" text-anchor="middle" fill="#2b2b2b" stroke="#2b2b2b" stroke-width="0.13">26</text>
<text x="150.60" y="516.5" font-size="6.5" text-anchor="middle" fill="#2b2b2b" stroke="#2b2b2b" stroke-width="0.13">16</text>
<text x="180.60" y="516.5" font-size="6.5" text-anchor="middle" fill="#2b2b2b" stroke="#2b2b2b" stroke-width="0.13">9</text>
<text x="210.60" y="516.5" font-size="6.5" text-anchor="middle" fill="#2b2b2b" stroke="#2b2b2b" stroke-width="0.13">1</text>
<text x="240.60" y="516.5" font-size="6.5" text-anchor="middle" fill="#2b2b2b" stroke="#2b2b2b" stroke-width="0.13">1</text>
<text x="284" y="367.4" font-size="12.5" font-weight="bold" fill="#111" stroke="#111" stroke-width="0.45">F</text>
<path d="M320.6,368.3H325.6V369.8H332.8V373.6H336.7V376.5H352.5V380.3H357.3V381.8H360V382.5H368V384.2H384.2V388.8H392.9V394.6H407.9V397.5H448.75V402.5H500.75V443.75H448.75V429.2H407.9V424.6H398V421.2H384.2V408H359.3V406.3H350.6V395.7H334.3V386.1H328.5V380H325V374H322.5V368.3H320.6Z" fill="#c2c1dd" style="mix-blend-mode:multiply"/>
<path d="M320.6,368.3H323.2V369.5H328.5V378.4H334.3V386.1H350.6V391.9H359.3V394.6H365V408.5H423.75V453.4H365V441.7H356.5V431H351.25V424.8H329V406.8H323.75V380H322V368.3H320.6Z" fill="#eebeb2" style="mix-blend-mode:multiply"/>
<path d="M320.6,368.3H322.5V369H325.1V370.7H327.1V372.7H328.5V373.6H330.4V374.6H333.8V377.5H336.7V379.4H339.3V383.7H349.7V385.2H351.6V387.1H353.5V389H359.3V390.4H360.2V391.9H368.7V394.6H384.8V401H393.5V404.4H399.2V408.5H409V411.9H449.5V422H500.75" fill="none" stroke="#213458" stroke-width="1.15"/>
<path d="M320.6,368.3H323.2V368.8H324.7V372.7H327.5V375.5H328.5V394.8H330.4V395.7H330.9V402H351.6V408.7H356.4V417H364.6V432.2H423.75" fill="none" stroke="#a81c34" stroke-width="1.15"/>
<line x1="423.75" y1="432.2" x2="423.75" y2="463.5" stroke="#a81c34" stroke-width="1.1"/>
<line x1="316.8" y1="365.7" x2="316.8" y2="467.20000000000005" stroke="#111" stroke-width="1.2"/>
<line x1="316.2" y1="466.6" x2="503" y2="466.6" stroke="#111" stroke-width="1.2"/>
<line x1="313.6" y1="463.50" x2="316.8" y2="463.50" stroke="#111" stroke-width="0.9"/>
<text x="310.00" y="465.10" font-size="6.3" text-anchor="end" fill="#383838" stroke="#383838" stroke-width="0.13">0</text>
<line x1="313.6" y1="453.98" x2="316.8" y2="453.98" stroke="#111" stroke-width="0.9"/>
<text x="310.00" y="455.58" font-size="6.3" text-anchor="end" fill="#383838" stroke="#383838" stroke-width="0.13">.1</text>
<line x1="313.6" y1="444.46" x2="316.8" y2="444.46" stroke="#111" stroke-width="0.9"/>
<text x="310.00" y="446.06" font-size="6.3" text-anchor="end" fill="#383838" stroke="#383838" stroke-width="0.13">.2</text>
<line x1="313.6" y1="434.94" x2="316.8" y2="434.94" stroke="#111" stroke-width="0.9"/>
<text x="310.00" y="436.54" font-size="6.3" text-anchor="end" fill="#383838" stroke="#383838" stroke-width="0.13">.3</text>
<line x1="313.6" y1="425.42" x2="316.8" y2="425.42" stroke="#111" stroke-width="0.9"/>
<text x="310.00" y="427.02" font-size="6.3" text-anchor="end" fill="#383838" stroke="#383838" stroke-width="0.13">.4</text>
<line x1="313.6" y1="415.90" x2="316.8" y2="415.90" stroke="#111" stroke-width="0.9"/>
<text x="310.00" y="417.50" font-size="6.3" text-anchor="end" fill="#383838" stroke="#383838" stroke-width="0.13">.5</text>
<line x1="313.6" y1="406.38" x2="316.8" y2="406.38" stroke="#111" stroke-width="0.9"/>
<text x="310.00" y="407.98" font-size="6.3" text-anchor="end" fill="#383838" stroke="#383838" stroke-width="0.13">.6</text>
<line x1="313.6" y1="396.86" x2="316.8" y2="396.86" stroke="#111" stroke-width="0.9"/>
<text x="310.00" y="398.46" font-size="6.3" text-anchor="end" fill="#383838" stroke="#383838" stroke-width="0.13">.7</text>
<line x1="313.6" y1="387.34" x2="316.8" y2="387.34" stroke="#111" stroke-width="0.9"/>
<text x="310.00" y="388.94" font-size="6.3" text-anchor="end" fill="#383838" stroke="#383838" stroke-width="0.13">.8</text>
<line x1="313.6" y1="377.82" x2="316.8" y2="377.82" stroke="#111" stroke-width="0.9"/>
<text x="310.00" y="379.42" font-size="6.3" text-anchor="end" fill="#383838" stroke="#383838" stroke-width="0.13">.9</text>
<line x1="313.6" y1="368.30" x2="316.8" y2="368.30" stroke="#111" stroke-width="0.9"/>
<text x="310.00" y="369.90" font-size="6.3" text-anchor="end" fill="#383838" stroke="#383838" stroke-width="0.13">1</text>
<line x1="320.10" y1="466.6" x2="320.10" y2="470.20000000000005" stroke="#111" stroke-width="0.9"/>
<text x="320.10" y="479.3" font-size="6.5" text-anchor="middle" fill="#2b2b2b" stroke="#2b2b2b" stroke-width="0.13">0</text>
<line x1="350.00" y1="466.6" x2="350.00" y2="470.20000000000005" stroke="#111" stroke-width="0.9"/>
<text x="350.00" y="479.3" font-size="6.5" text-anchor="middle" fill="#2b2b2b" stroke="#2b2b2b" stroke-width="0.13">.5</text>
<line x1="379.90" y1="466.6" x2="379.90" y2="470.20000000000005" stroke="#111" stroke-width="0.9"/>
<text x="379.90" y="479.3" font-size="6.5" text-anchor="middle" fill="#2b2b2b" stroke="#2b2b2b" stroke-width="0.13">1</text>
<line x1="409.80" y1="466.6" x2="409.80" y2="470.20000000000005" stroke="#111" stroke-width="0.9"/>
<text x="409.80" y="479.3" font-size="6.5" text-anchor="middle" fill="#2b2b2b" stroke="#2b2b2b" stroke-width="0.13">1.5</text>
<line x1="439.70" y1="466.6" x2="439.70" y2="470.20000000000005" stroke="#111" stroke-width="0.9"/>
<text x="439.70" y="479.3" font-size="6.5" text-anchor="middle" fill="#2b2b2b" stroke="#2b2b2b" stroke-width="0.13">2</text>
<line x1="469.60" y1="466.6" x2="469.60" y2="470.20000000000005" stroke="#111" stroke-width="0.9"/>
<text x="469.60" y="479.3" font-size="6.5" text-anchor="middle" fill="#2b2b2b" stroke="#2b2b2b" stroke-width="0.13">2.5</text>
<line x1="499.50" y1="466.6" x2="499.50" y2="470.20000000000005" stroke="#111" stroke-width="0.9"/>
<text x="499.50" y="479.3" font-size="6.5" text-anchor="middle" fill="#2b2b2b" stroke="#2b2b2b" stroke-width="0.13">3</text>
<text transform="translate(299.6,416) rotate(-90)" font-size="8.3" text-anchor="middle" textLength="40" lengthAdjust="spacingAndGlyphs" fill="#2b2b2b" stroke="#2b2b2b" stroke-width="0.32">Overall survival</text>
<text x="410.2" y="492.6" font-size="8.8" text-anchor="middle" textLength="31.6" lengthAdjust="spacingAndGlyphs" fill="#2b2b2b" stroke="#2b2b2b" stroke-width="0.4">Time(years)</text>
<text x="458.7" y="361.8" font-size="6.3" text-anchor="middle" textLength="32.5" lengthAdjust="spacingAndGlyphs" fill="#2b2b2b" stroke="#2b2b2b" stroke-width="0.13">Median OS</text>
<text x="497.3" y="361.8" font-size="6.3" text-anchor="middle" textLength="21.2" lengthAdjust="spacingAndGlyphs" fill="#2b2b2b" stroke="#2b2b2b" stroke-width="0.13">95% CI</text>
<line x1="438.7" y1="365" x2="510" y2="365" stroke="#111" stroke-width="0.8"/>
<line x1="370.8" y1="370.9" x2="383.8" y2="370.9" stroke="#3d6270" stroke-width="1.6"/>
<line x1="370.8" y1="379.9" x2="383.8" y2="379.9" stroke="#8e4858" stroke-width="1.6"/>
<text x="387" y="373.1" font-size="6.3" textLength="48.4" lengthAdjust="spacingAndGlyphs" fill="#2b2b2b" stroke="#2b2b2b" stroke-width="0.13">BM blasts &lt; 25%</text>
<text x="387" y="382.3" font-size="6.3" textLength="48.4" lengthAdjust="spacingAndGlyphs" fill="#2b2b2b" stroke="#2b2b2b" stroke-width="0.13">BM blasts &#8805; 25%</text>
<text x="458.4" y="373.1" font-size="6.3" text-anchor="middle" fill="#2b2b2b" stroke="#2b2b2b" stroke-width="0.13">25.9 m</text>
<text x="458.4" y="382.3" font-size="6.3" text-anchor="middle" fill="#2b2b2b" stroke="#2b2b2b" stroke-width="0.13">7.2 m</text>
<text x="497.5" y="373.1" font-size="6.3" text-anchor="middle" fill="#2b2b2b" stroke="#2b2b2b" stroke-width="0.13">12.8-NR</text>
<text x="497.5" y="382.3" font-size="6.3" text-anchor="middle" fill="#2b2b2b" stroke="#2b2b2b" stroke-width="0.13">1.6-NR</text>
<text x="266.6" y="498.8" font-size="6.8" textLength="40.5" lengthAdjust="spacingAndGlyphs" fill="#2b2b2b" stroke="#2b2b2b" stroke-width="0.13">Number at risk</text>
<text x="307.3" y="507.7" font-size="6.3" text-anchor="end" textLength="33.7" lengthAdjust="spacingAndGlyphs" fill="#2b2b2b" stroke="#2b2b2b" stroke-width="0.13">%blasts&lt;25</text>
<text x="307.3" y="516.6" font-size="6.3" text-anchor="end" textLength="33.7" lengthAdjust="spacingAndGlyphs" fill="#2b2b2b" stroke="#2b2b2b" stroke-width="0.13">%blasts&#8805;25</text>
<text x="320.10" y="507.6" font-size="6.5" text-anchor="middle" fill="#2b2b2b" stroke="#2b2b2b" stroke-width="0.13">50</text>
<text x="350.00" y="507.6" font-size="6.5" text-anchor="middle" fill="#2b2b2b" stroke="#2b2b2b" stroke-width="0.13">32</text>
<text x="379.90" y="507.6" font-size="6.5" text-anchor="middle" fill="#2b2b2b" stroke="#2b2b2b" stroke-width="0.13">24</text>
<text x="409.80" y="507.6" font-size="6.5" text-anchor="middle" fill="#2b2b2b" stroke="#2b2b2b" stroke-width="0.13">14</text>
<text x="439.70" y="507.6" font-size="6.5" text-anchor="middle" fill="#2b2b2b" stroke="#2b2b2b" stroke-width="0.13">9</text>
<text x="469.60" y="507.6" font-size="6.5" text-anchor="middle" fill="#2b2b2b" stroke="#2b2b2b" stroke-width="0.13">1</text>
<text x="499.50" y="507.6" font-size="6.5" text-anchor="middle" fill="#2b2b2b" stroke="#2b2b2b" stroke-width="0.13">1</text>
<text x="320.10" y="516.6" font-size="6.5" text-anchor="middle" fill="#2b2b2b" stroke="#2b2b2b" stroke-width="0.13">14</text>
<text x="350.00" y="516.6" font-size="6.5" text-anchor="middle" fill="#2b2b2b" stroke="#2b2b2b" stroke-width="0.13">9</text>
<text x="379.90" y="516.6" font-size="6.5" text-anchor="middle" fill="#2b2b2b" stroke="#2b2b2b" stroke-width="0.13">3</text>
<text x="409.80" y="516.6" font-size="6.5" text-anchor="middle" fill="#2b2b2b" stroke="#2b2b2b" stroke-width="0.13">2</text>
<text x="439.70" y="516.6" font-size="6.5" text-anchor="middle" fill="#2b2b2b" stroke="#2b2b2b" stroke-width="0.13">0</text>
<text x="469.60" y="516.6" font-size="6.5" text-anchor="middle" fill="#2b2b2b" stroke="#2b2b2b" stroke-width="0.13">0</text>
<text x="499.50" y="516.6" font-size="6.5" text-anchor="middle" fill="#2b2b2b" stroke="#2b2b2b" stroke-width="0.13">0</text>
<text x="87.3" y="544.5" font-size="12.5" font-weight="bold" fill="#111" stroke="#111" stroke-width="0.45">G</text>
<line x1="105.5" y1="541.1" x2="432.8" y2="541.1" stroke="#111" stroke-width="1"/>
<line x1="191.5" y1="553.8000000000001" x2="308.4" y2="553.8000000000001" stroke="#111" stroke-width="0.9"/>
<line x1="315.3" y1="553.8000000000001" x2="432.8" y2="553.8000000000001" stroke="#111" stroke-width="0.9"/>
<text x="249.5" y="549.5" font-size="6.3" text-anchor="middle" fill="#4d4d4d" stroke="#4d4d4d" stroke-width="0.12">EFS</text>
<text x="373.7" y="549.5" font-size="6.3" text-anchor="middle" fill="#4d4d4d" stroke="#4d4d4d" stroke-width="0.12">OS</text>
<text x="111.3" y="563.1" font-size="6.3" fill="#4d4d4d" stroke="#4d4d4d" stroke-width="0.12">Variable</text>
<text x="202.3" y="563.1" font-size="6.3" text-anchor="middle" fill="#4d4d4d" stroke="#4d4d4d" stroke-width="0.12">N</text>
<text x="220" y="563.1" font-size="6.3" text-anchor="middle" fill="#4d4d4d" stroke="#4d4d4d" stroke-width="0.12">OR</text>
<text x="256.2" y="563.1" font-size="6.3" text-anchor="middle" fill="#4d4d4d" stroke="#4d4d4d" stroke-width="0.12">95% CI</text>
<text x="295" y="563.1" font-size="6.3" text-anchor="middle" fill="#4d4d4d" stroke="#4d4d4d" stroke-width="0.12"><tspan font-style="italic">P</tspan></text>
<text x="325.2" y="563.1" font-size="6.3" text-anchor="middle" fill="#4d4d4d" stroke="#4d4d4d" stroke-width="0.12">N</text>
<text x="348.7" y="563.1" font-size="6.3" text-anchor="middle" fill="#4d4d4d" stroke="#4d4d4d" stroke-width="0.12">OR</text>
<text x="384" y="563.1" font-size="6.3" text-anchor="middle" fill="#4d4d4d" stroke="#4d4d4d" stroke-width="0.12">95% CI</text>
<text x="419.4" y="563.1" font-size="6.3" text-anchor="middle" fill="#4d4d4d" stroke="#4d4d4d" stroke-width="0.12"><tspan font-style="italic">P</tspan></text>
<line x1="105.5" y1="567.9" x2="432.8" y2="567.9" stroke="#111" stroke-width="1.1"/>
<rect x="105.5" y="568.50" width="327.30" height="10.45" fill="#e1e1e7"/>
<text x="111.3" y="575.90" font-size="6.3" fill="#2e2e2e" stroke="#2e2e2e" stroke-width="0.14">Age (years)*</text>
<text x="202.3" y="575.90" font-size="6.3" text-anchor="middle" fill="#2e2e2e" stroke="#2e2e2e" stroke-width="0.14">67</text>
<text x="220" y="575.90" font-size="6.3" text-anchor="middle" fill="#2e2e2e" stroke="#2e2e2e" stroke-width="0.14">0.97</text>
<text x="256.2" y="575.90" font-size="6.3" text-anchor="middle" fill="#2e2e2e" stroke="#2e2e2e" stroke-width="0.14">[0.94;1.00]</text>
<text x="295" y="575.90" font-size="6.3" text-anchor="middle" fill="#2e2e2e" stroke="#2e2e2e" stroke-width="0.14">.025</text>
<text x="325.2" y="575.90" font-size="6.3" text-anchor="middle" fill="#2e2e2e" stroke="#2e2e2e" stroke-width="0.14">67</text>
<text x="348.7" y="575.90" font-size="6.3" text-anchor="middle" fill="#2e2e2e" stroke="#2e2e2e" stroke-width="0.14">0.99</text>
<text x="384" y="575.90" font-size="6.3" text-anchor="middle" fill="#2e2e2e" stroke="#2e2e2e" stroke-width="0.14">[0.96;1.02]</text>
<text x="419.4" y="575.90" font-size="6.3" text-anchor="middle" fill="#2e2e2e" stroke="#2e2e2e" stroke-width="0.14">.403</text>
<text x="111.3" y="586.35" font-size="6.3" fill="#2e2e2e" stroke="#2e2e2e" stroke-width="0.14">ECOG-PS &#8805; 2</text>
<text x="202.3" y="586.35" font-size="6.3" text-anchor="middle" fill="#2e2e2e" stroke="#2e2e2e" stroke-width="0.14">56</text>
<text x="220" y="586.35" font-size="6.3" text-anchor="middle" fill="#2e2e2e" stroke="#2e2e2e" stroke-width="0.14">1.46</text>
<text x="256.2" y="586.35" font-size="6.3" text-anchor="middle" fill="#2e2e2e" stroke="#2e2e2e" stroke-width="0.14">[0.60;3.54]</text>
<text x="295" y="586.35" font-size="6.3" text-anchor="middle" fill="#2e2e2e" stroke="#2e2e2e" stroke-width="0.14">.406</text>
<text x="325.2" y="586.35" font-size="6.3" text-anchor="middle" fill="#2e2e2e" stroke="#2e2e2e" stroke-width="0.14">56</text>
<text x="348.7" y="586.35" font-size="6.3" text-anchor="middle" fill="#2e2e2e" stroke="#2e2e2e" stroke-width="0.14">1.58</text>
<text x="384" y="586.35" font-size="6.3" text-anchor="middle" fill="#2e2e2e" stroke="#2e2e2e" stroke-width="0.14">[0.59;4.21]</text>
<text x="419.4" y="586.35" font-size="6.3" text-anchor="middle" fill="#2e2e2e" stroke="#2e2e2e" stroke-width="0.14">.364</text>
<rect x="105.5" y="589.40" width="327.30" height="10.45" fill="#e1e1e7"/>
<text x="111.3" y="596.80" font-size="6.3" fill="#2e2e2e" stroke="#2e2e2e" stroke-width="0.14">CNS infiltration</text>
<text x="202.3" y="596.80" font-size="6.3" text-anchor="middle" fill="#2e2e2e" stroke="#2e2e2e" stroke-width="0.14">67</text>
<text x="220" y="596.80" font-size="6.3" text-anchor="middle" fill="#2e2e2e" stroke="#2e2e2e" stroke-width="0.14">2.63</text>
<text x="256.2" y="596.80" font-size="6.3" text-anchor="middle" fill="#2e2e2e" stroke="#2e2e2e" stroke-width="0.14">[1.12;6.13]</text>
<text x="295" y="596.80" font-size="6.3" text-anchor="middle" fill="#2e2e2e" stroke="#2e2e2e" stroke-width="0.14">.026</text>
<text x="325.2" y="596.80" font-size="6.3" text-anchor="middle" fill="#2e2e2e" stroke="#2e2e2e" stroke-width="0.14">67</text>
<text x="348.7" y="596.80" font-size="6.3" text-anchor="middle" fill="#2e2e2e" stroke="#2e2e2e" stroke-width="0.14">1.94</text>
<text x="384" y="596.80" font-size="6.3" text-anchor="middle" fill="#2e2e2e" stroke="#2e2e2e" stroke-width="0.14">[0.72;5.23]</text>
<text x="419.4" y="596.80" font-size="6.3" text-anchor="middle" fill="#2e2e2e" stroke="#2e2e2e" stroke-width="0.14">.191</text>
<text x="111.3" y="607.25" font-size="6.3" fill="#2e2e2e" stroke="#2e2e2e" stroke-width="0.14">Prior treatment line &gt; 2</text>
<text x="202.3" y="607.25" font-size="6.3" text-anchor="middle" fill="#2e2e2e" stroke="#2e2e2e" stroke-width="0.14">67</text>
<text x="220" y="607.25" font-size="6.3" text-anchor="middle" fill="#2e2e2e" stroke="#2e2e2e" stroke-width="0.14">1.11</text>
<text x="256.2" y="607.25" font-size="6.3" text-anchor="middle" fill="#2e2e2e" stroke="#2e2e2e" stroke-width="0.14">[0.60;2.07]</text>
<text x="295" y="607.25" font-size="6.3" text-anchor="middle" fill="#2e2e2e" stroke="#2e2e2e" stroke-width="0.14">.733</text>
<text x="325.2" y="607.25" font-size="6.3" text-anchor="middle" fill="#2e2e2e" stroke="#2e2e2e" stroke-width="0.14">67</text>
<text x="348.7" y="607.25" font-size="6.3" text-anchor="middle" fill="#2e2e2e" stroke="#2e2e2e" stroke-width="0.14">1.5</text>
<text x="384" y="607.25" font-size="6.3" text-anchor="middle" fill="#2e2e2e" stroke="#2e2e2e" stroke-width="0.14">[0.73;3.11]</text>
<text x="419.4" y="607.25" font-size="6.3" text-anchor="middle" fill="#2e2e2e" stroke="#2e2e2e" stroke-width="0.14">.272</text>
<rect x="105.5" y="610.30" width="327.30" height="10.45" fill="#e1e1e7"/>
<text x="111.3" y="617.70" font-size="6.3" fill="#2e2e2e" stroke="#2e2e2e" stroke-width="0.14">Prior alloHSCT</text>
<text x="202.3" y="617.70" font-size="6.3" text-anchor="middle" fill="#2e2e2e" stroke="#2e2e2e" stroke-width="0.14">67</text>
<text x="220" y="617.70" font-size="6.3" text-anchor="middle" fill="#2e2e2e" stroke="#2e2e2e" stroke-width="0.14">0.39</text>
<text x="256.2" y="617.70" font-size="6.3" text-anchor="middle" fill="#2e2e2e" stroke="#2e2e2e" stroke-width="0.14">[0.21;0.72]</text>
<text x="295" y="617.70" font-size="6.3" text-anchor="middle" fill="#2e2e2e" stroke="#2e2e2e" stroke-width="0.14">.003</text>
<text x="325.2" y="617.70" font-size="6.3" text-anchor="middle" fill="#2e2e2e" stroke="#2e2e2e" stroke-width="0.14">67</text>
<text x="348.7" y="617.70" font-size="6.3" text-anchor="middle" fill="#2e2e2e" stroke="#2e2e2e" stroke-width="0.14">0.35</text>
<text x="384" y="617.70" font-size="6.3" text-anchor="middle" fill="#2e2e2e" stroke="#2e2e2e" stroke-width="0.14">[0.17;0.72]</text>
<text x="419.4" y="617.70" font-size="6.3" text-anchor="middle" fill="#2e2e2e" stroke="#2e2e2e" stroke-width="0.14">.005</text>
<text x="111.3" y="628.15" font-size="6.3" fill="#2e2e2e" stroke="#2e2e2e" stroke-width="0.14">Prior blinatumomab</text>
<text x="202.3" y="628.15" font-size="6.3" text-anchor="middle" fill="#2e2e2e" stroke="#2e2e2e" stroke-width="0.14">67</text>
<text x="220" y="628.15" font-size="6.3" text-anchor="middle" fill="#2e2e2e" stroke="#2e2e2e" stroke-width="0.14">1.75</text>
<text x="256.2" y="628.15" font-size="6.3" text-anchor="middle" fill="#2e2e2e" stroke="#2e2e2e" stroke-width="0.14">[0.89;3.45]</text>
<text x="295" y="628.15" font-size="6.3" text-anchor="middle" fill="#2e2e2e" stroke="#2e2e2e" stroke-width="0.14">.104</text>
<text x="325.2" y="628.15" font-size="6.3" text-anchor="middle" fill="#2e2e2e" stroke="#2e2e2e" stroke-width="0.14">67</text>
<text x="348.7" y="628.15" font-size="6.3" text-anchor="middle" fill="#2e2e2e" stroke="#2e2e2e" stroke-width="0.14">1.46</text>
<text x="384" y="628.15" font-size="6.3" text-anchor="middle" fill="#2e2e2e" stroke="#2e2e2e" stroke-width="0.14">[0.67;3.20]</text>
<text x="419.4" y="628.15" font-size="6.3" text-anchor="middle" fill="#2e2e2e" stroke="#2e2e2e" stroke-width="0.14">.344</text>
<rect x="105.5" y="631.20" width="327.30" height="10.45" fill="#e1e1e7"/>
<text x="111.3" y="638.60" font-size="6.3" fill="#2e2e2e" stroke="#2e2e2e" stroke-width="0.14">Prior inotuzumab</text>
<text x="202.3" y="638.60" font-size="6.3" text-anchor="middle" fill="#2e2e2e" stroke="#2e2e2e" stroke-width="0.14">67</text>
<text x="220" y="638.60" font-size="6.3" text-anchor="middle" fill="#2e2e2e" stroke="#2e2e2e" stroke-width="0.14">1.99</text>
<text x="256.2" y="638.60" font-size="6.3" text-anchor="middle" fill="#2e2e2e" stroke="#2e2e2e" stroke-width="0.14">[0.97;4.09]</text>
<text x="295" y="638.60" font-size="6.3" text-anchor="middle" fill="#2e2e2e" stroke="#2e2e2e" stroke-width="0.14">.060</text>
<text x="325.2" y="638.60" font-size="6.3" text-anchor="middle" fill="#2e2e2e" stroke="#2e2e2e" stroke-width="0.14">67</text>
<text x="348.7" y="638.60" font-size="6.3" text-anchor="middle" fill="#2e2e2e" stroke="#2e2e2e" stroke-width="0.14">1.53</text>
<text x="384" y="638.60" font-size="6.3" text-anchor="middle" fill="#2e2e2e" stroke="#2e2e2e" stroke-width="0.14">[0.65;3.61]</text>
<text x="419.4" y="638.60" font-size="6.3" text-anchor="middle" fill="#2e2e2e" stroke="#2e2e2e" stroke-width="0.14">.330</text>
<text x="111.3" y="649.05" font-size="6.3" fill="#2e2e2e" stroke="#2e2e2e" stroke-width="0.14">Pre-LD BM blast %*</text>
<text x="202.3" y="649.05" font-size="6.3" text-anchor="middle" fill="#2e2e2e" stroke="#2e2e2e" stroke-width="0.14">64</text>
<text x="220" y="649.05" font-size="6.3" text-anchor="middle" fill="#2e2e2e" stroke="#2e2e2e" stroke-width="0.14">1.01</text>
<text x="256.2" y="649.05" font-size="6.3" text-anchor="middle" fill="#2e2e2e" stroke="#2e2e2e" stroke-width="0.14">[1.00;1.02]</text>
<text x="295" y="649.05" font-size="6.3" text-anchor="middle" fill="#2e2e2e" stroke="#2e2e2e" stroke-width="0.14">.020</text>
<text x="325.2" y="649.05" font-size="6.3" text-anchor="middle" fill="#2e2e2e" stroke="#2e2e2e" stroke-width="0.14">64</text>
<text x="348.7" y="649.05" font-size="6.3" text-anchor="middle" fill="#2e2e2e" stroke="#2e2e2e" stroke-width="0.14">1.01</text>
<text x="384" y="649.05" font-size="6.3" text-anchor="middle" fill="#2e2e2e" stroke="#2e2e2e" stroke-width="0.14">[1.00;1.03]</text>
<text x="419.4" y="649.05" font-size="6.3" text-anchor="middle" fill="#2e2e2e" stroke="#2e2e2e" stroke-width="0.14">.015</text>
<rect x="105.5" y="652.10" width="327.30" height="10.45" fill="#e1e1e7"/>
<text x="111.3" y="659.50" font-size="6.3" fill="#2e2e2e" stroke="#2e2e2e" stroke-width="0.14">Pre-LD BM blast &#8805; 25%</text>
<text x="202.3" y="659.50" font-size="6.3" text-anchor="middle" fill="#2e2e2e" stroke="#2e2e2e" stroke-width="0.14">64</text>
<text x="220" y="659.50" font-size="6.3" text-anchor="middle" fill="#2e2e2e" stroke="#2e2e2e" stroke-width="0.14">2.13</text>
<text x="256.2" y="659.50" font-size="6.3" text-anchor="middle" fill="#2e2e2e" stroke="#2e2e2e" stroke-width="0.14">[1.05;4.33]</text>
<text x="295" y="659.50" font-size="6.3" text-anchor="middle" fill="#2e2e2e" stroke="#2e2e2e" stroke-width="0.14">.037</text>
<text x="325.2" y="659.50" font-size="6.3" text-anchor="middle" fill="#2e2e2e" stroke="#2e2e2e" stroke-width="0.14">64</text>
<text x="348.7" y="659.50" font-size="6.3" text-anchor="middle" fill="#2e2e2e" stroke="#2e2e2e" stroke-width="0.14">2.84</text>
<text x="384" y="659.50" font-size="6.3" text-anchor="middle" fill="#2e2e2e" stroke="#2e2e2e" stroke-width="0.14">[1.29;6.25]</text>
<text x="419.4" y="659.50" font-size="6.3" text-anchor="middle" fill="#2e2e2e" stroke="#2e2e2e" stroke-width="0.14">.010</text>
<text x="111.3" y="669.95" font-size="6.3" fill="#2e2e2e" stroke="#2e2e2e" stroke-width="0.14">CRS (any grade)</text>
<text x="202.3" y="669.95" font-size="6.3" text-anchor="middle" fill="#2e2e2e" stroke="#2e2e2e" stroke-width="0.14">67</text>
<text x="220" y="669.95" font-size="6.3" text-anchor="middle" fill="#2e2e2e" stroke="#2e2e2e" stroke-width="0.14">0.49</text>
<text x="256.2" y="669.95" font-size="6.3" text-anchor="middle" fill="#2e2e2e" stroke="#2e2e2e" stroke-width="0.14">[0.24;0.99]</text>
<text x="295" y="669.95" font-size="6.3" text-anchor="middle" fill="#2e2e2e" stroke="#2e2e2e" stroke-width="0.14">.046</text>
<text x="325.2" y="669.95" font-size="6.3" text-anchor="middle" fill="#2e2e2e" stroke="#2e2e2e" stroke-width="0.14">67</text>
<text x="348.7" y="669.95" font-size="6.3" text-anchor="middle" fill="#2e2e2e" stroke="#2e2e2e" stroke-width="0.14">0.85</text>
<text x="384" y="669.95" font-size="6.3" text-anchor="middle" fill="#2e2e2e" stroke="#2e2e2e" stroke-width="0.14">[0.37;1.99]</text>
<text x="419.4" y="669.95" font-size="6.3" text-anchor="middle" fill="#2e2e2e" stroke="#2e2e2e" stroke-width="0.14">.714</text>
<rect x="105.5" y="673.00" width="327.30" height="10.45" fill="#e1e1e7"/>
<text x="111.3" y="680.40" font-size="6.3" fill="#2e2e2e" stroke="#2e2e2e" stroke-width="0.14">ICANS (any grade)</text>
<text x="202.3" y="680.40" font-size="6.3" text-anchor="middle" fill="#2e2e2e" stroke="#2e2e2e" stroke-width="0.14">67</text>
<text x="220" y="680.40" font-size="6.3" text-anchor="middle" fill="#2e2e2e" stroke="#2e2e2e" stroke-width="0.14">0.8</text>
<text x="256.2" y="680.40" font-size="6.3" text-anchor="middle" fill="#2e2e2e" stroke="#2e2e2e" stroke-width="0.14">[0.42;1.51]</text>
<text x="295" y="680.40" font-size="6.3" text-anchor="middle" fill="#2e2e2e" stroke="#2e2e2e" stroke-width="0.14">.489</text>
<text x="325.2" y="680.40" font-size="6.3" text-anchor="middle" fill="#2e2e2e" stroke="#2e2e2e" stroke-width="0.14">67</text>
<text x="348.7" y="680.40" font-size="6.3" text-anchor="middle" fill="#2e2e2e" stroke="#2e2e2e" stroke-width="0.14">0.88</text>
<text x="384" y="680.40" font-size="6.3" text-anchor="middle" fill="#2e2e2e" stroke="#2e2e2e" stroke-width="0.14">[0.43;1.82]</text>
<text x="419.4" y="680.40" font-size="6.3" text-anchor="middle" fill="#2e2e2e" stroke="#2e2e2e" stroke-width="0.14">.734</text>
<line x1="105.5" y1="684.5" x2="432.8" y2="684.5" stroke="#111" stroke-width="1.6"/>
<text x="105.5" y="692.6" font-size="6.1" fill="#2e2e2e" stroke="#2e2e2e" stroke-width="0.1">* continuous variable</text>
<text x="105.5" y="702.8" font-size="6.1" fill="#2e2e2e" stroke="#2e2e2e" stroke-width="0.1">** before apheresis</text>
<line x1="106.5" y1="66.9" x2="106.5" y2="68.8" stroke="#213458" stroke-width="0.9"/>
<line x1="200.4" y1="94.7" x2="200.4" y2="96.6" stroke="#213458" stroke-width="0.9"/>
<line x1="203.8" y1="94.7" x2="203.8" y2="96.6" stroke="#213458" stroke-width="0.9"/>
<line x1="207.3" y1="94.7" x2="207.3" y2="96.6" stroke="#213458" stroke-width="0.9"/>
<line x1="387.5" y1="56.5" x2="387.5" y2="58.4" stroke="#213458" stroke-width="0.9"/>
<line x1="410" y1="69.95" x2="410" y2="71.85" stroke="#213458" stroke-width="0.9"/>
<line x1="414" y1="69.95" x2="414" y2="71.85" stroke="#213458" stroke-width="0.9"/>
<line x1="440" y1="73.7" x2="440" y2="75.6" stroke="#213458" stroke-width="0.9"/>
<line x1="443.75" y1="73.7" x2="443.75" y2="75.6" stroke="#213458" stroke-width="0.9"/>
<line x1="453.75" y1="82.45" x2="453.75" y2="84.35" stroke="#213458" stroke-width="0.9"/>
<line x1="463.75" y1="82.45" x2="463.75" y2="84.35" stroke="#213458" stroke-width="0.9"/>
<line x1="150" y1="231.2" x2="150" y2="233.1" stroke="#a81c34" stroke-width="0.9"/>
<line x1="179" y1="238.39999999999998" x2="179" y2="240.29999999999998" stroke="#a81c34" stroke-width="0.9"/>
<line x1="183" y1="238.39999999999998" x2="183" y2="240.29999999999998" stroke="#a81c34" stroke-width="0.9"/>
<line x1="195" y1="249.79999999999998" x2="195" y2="251.7" stroke="#a81c34" stroke-width="0.9"/>
<line x1="186" y1="261.5" x2="186" y2="263.40000000000003" stroke="#213458" stroke-width="0.9"/>
<line x1="387" y1="215.89999999999998" x2="387" y2="217.79999999999998" stroke="#213458" stroke-width="0.9"/>
<line x1="430" y1="231.6" x2="430" y2="233.5" stroke="#213458" stroke-width="0.9"/>
<line x1="440" y1="231.6" x2="440" y2="233.5" stroke="#213458" stroke-width="0.9"/>
<line x1="440" y1="250.45" x2="440" y2="252.35" stroke="#a81c34" stroke-width="0.9"/>
<line x1="453.75" y1="250.45" x2="453.75" y2="252.35" stroke="#a81c34" stroke-width="0.9"/>
<line x1="462.5" y1="250.45" x2="462.5" y2="252.35" stroke="#a81c34" stroke-width="0.9"/>
<line x1="82" y1="376.2" x2="82" y2="378.1" stroke="#a81c34" stroke-width="0.9"/>
<line x1="123" y1="392.45" x2="123" y2="394.35" stroke="#a81c34" stroke-width="0.9"/>
<line x1="148" y1="408.2" x2="148" y2="410.1" stroke="#a81c34" stroke-width="0.9"/>
<line x1="167.5" y1="412.45" x2="167.5" y2="414.35" stroke="#a81c34" stroke-width="0.9"/>
<line x1="194.4" y1="422.95" x2="194.4" y2="424.85" stroke="#a81c34" stroke-width="0.9"/>
<line x1="204.4" y1="422.95" x2="204.4" y2="424.85" stroke="#a81c34" stroke-width="0.9"/>
<line x1="440" y1="410.59999999999997" x2="440" y2="412.5" stroke="#213458" stroke-width="0.9"/>
<line x1="452" y1="420.7" x2="452" y2="422.6" stroke="#213458" stroke-width="0.9"/>
<line x1="462" y1="420.7" x2="462" y2="422.6" stroke="#213458" stroke-width="0.9"/>
<rect x="0.5" y="0.5" width="519" height="711" fill="none" stroke="#555" stroke-width="1"/>
</svg></body></html>
